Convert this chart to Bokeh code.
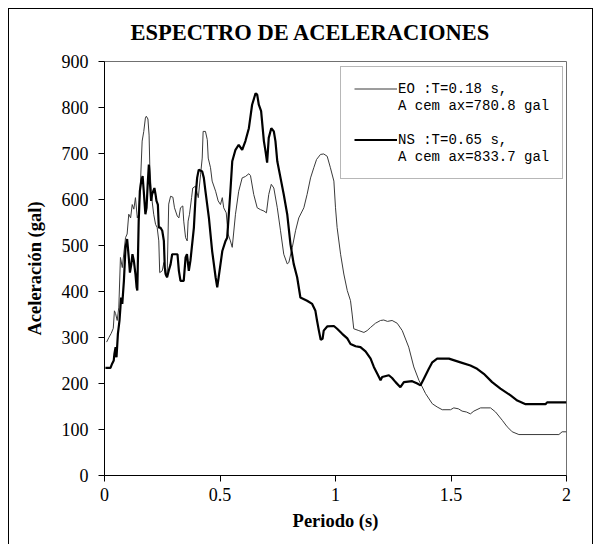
from bokeh.plotting import figure
from bokeh.models import Range1d, Legend, LegendItem, FixedTicker, ColumnDataSource
from bokeh.embed import file_html
from bokeh.resources import INLINE

# EO component (thin line)
eo_t = [0.009, 0.019, 0.029, 0.038, 0.043, 0.048, 0.055, 0.062, 0.069, 0.077, 0.091, 0.098,
        0.105, 0.113, 0.120, 0.127, 0.134, 0.142, 0.148, 0.156, 0.163, 0.170, 0.177, 0.181,
        0.188, 0.193, 0.196, 0.202, 0.206, 0.213, 0.221, 0.228, 0.235, 0.239, 0.250, 0.257,
        0.264, 0.271, 0.278, 0.286, 0.296, 0.303, 0.315, 0.322, 0.329, 0.339, 0.343, 0.351,
        0.358, 0.362, 0.368, 0.377, 0.382, 0.394, 0.406, 0.416, 0.423, 0.427, 0.437, 0.445,
        0.449, 0.459, 0.466, 0.481, 0.492, 0.502, 0.510, 0.516, 0.527, 0.535, 0.545, 0.553,
        0.567, 0.581, 0.596, 0.610, 0.625, 0.632, 0.646, 0.661, 0.675, 0.690, 0.701, 0.711,
        0.722, 0.733, 0.748, 0.762, 0.776, 0.791, 0.798, 0.813, 0.827, 0.841, 0.856, 0.863,
        0.877, 0.892, 0.906, 0.918, 0.935, 0.949, 0.964, 0.978, 0.993, 1.000, 1.007, 1.022,
        1.036, 1.051, 1.065, 1.072, 1.079, 1.101, 1.123, 1.137, 1.152, 1.173, 1.195, 1.209,
        1.225, 1.245, 1.267, 1.289, 1.317, 1.339, 1.361, 1.390, 1.419, 1.440, 1.462, 1.498,
        1.512, 1.532, 1.548, 1.567, 1.584, 1.599, 1.628, 1.671, 1.693, 1.722, 1.743, 1.765,
        1.794, 1.967, 1.981, 2.000]
eo_sa = [290, 300, 309, 320, 358, 352, 337, 366, 474, 452, 517, 525,
         568, 560, 589, 579, 604, 560, 568, 640, 727, 748, 777, 781,
         775, 740, 676, 618, 597, 568, 546, 539, 510, 441, 445, 463,
         434, 431, 590, 607, 605, 582, 564, 560, 582, 586, 553, 517,
         510, 553, 568, 604, 625, 629, 604, 655, 690, 748, 748, 730,
         690, 669, 640, 618, 597, 589, 604, 582, 571, 525, 510, 496,
         568, 618, 647, 650, 656, 652, 611, 582, 578, 575, 571, 611,
         633, 625, 582, 532, 481, 460, 463, 496, 532, 560, 575, 582,
         611, 647, 669, 687, 698, 699, 694, 669, 640, 582, 539, 481,
         438, 402, 380, 351, 319, 315, 311, 315, 322, 331, 337, 338,
         335, 337, 331, 315, 279, 236, 207, 178, 156, 149, 143, 143,
         147, 145, 140, 138, 134, 140, 147, 147, 138, 120, 106, 95,
         89, 89, 95, 95]

# NS component (thick line)
ns_t = [0.004, 0.026, 0.033, 0.040, 0.043, 0.048, 0.052, 0.058, 0.065, 0.069, 0.072, 0.077,
        0.084, 0.091, 0.098, 0.105, 0.110, 0.116, 0.121, 0.127, 0.134, 0.139, 0.142, 0.144,
        0.148, 0.153, 0.159, 0.165, 0.170, 0.177, 0.182, 0.187, 0.192, 0.196, 0.202, 0.206,
        0.211, 0.216, 0.221, 0.225, 0.231, 0.235, 0.242, 0.250, 0.257, 0.261, 0.265, 0.271,
        0.278, 0.286, 0.293, 0.307, 0.316, 0.322, 0.329, 0.343, 0.351, 0.357, 0.365, 0.372,
        0.387, 0.394, 0.401, 0.408, 0.423, 0.430, 0.437, 0.452, 0.466, 0.481, 0.488, 0.494,
        0.510, 0.524, 0.531, 0.545, 0.553, 0.567, 0.581, 0.596, 0.610, 0.625, 0.639, 0.654,
        0.661, 0.668, 0.678, 0.690, 0.697, 0.704, 0.711, 0.722, 0.733, 0.740, 0.748, 0.762,
        0.776, 0.791, 0.805, 0.819, 0.834, 0.848, 0.877, 0.899, 0.913, 0.920, 0.928, 0.936,
        0.944, 0.949, 0.964, 0.993, 1.007, 1.029, 1.051, 1.065, 1.087, 1.108, 1.130, 1.152,
        1.166, 1.181, 1.195, 1.202, 1.231, 1.245, 1.260, 1.281, 1.296, 1.332, 1.354, 1.368,
        1.382, 1.404, 1.419, 1.440, 1.491, 1.541, 1.584, 1.613, 1.642, 1.678, 1.714, 1.758,
        1.787, 1.823, 1.909, 1.916, 2.000]
ns_sa = [234, 234, 243, 250, 265, 279, 257, 308, 337, 366, 387, 373,
         423, 496, 514, 474, 441, 459, 481, 467, 438, 409, 402, 452,
         553, 618, 640, 651, 618, 568, 582, 633, 676, 640, 597, 611,
         618, 625, 611, 597, 589, 539, 539, 532, 510, 452, 438, 431,
         445, 459, 481, 481, 481, 445, 423, 423, 474, 481, 445, 467,
         539, 604, 647, 665, 661, 647, 618, 560, 488, 431, 409, 430,
         488, 510, 517, 618, 683, 708, 719, 708, 727, 755, 806, 831,
         828, 806, 792, 727, 705, 680, 734, 755, 748, 727, 683, 647,
         611, 568, 503, 460, 431, 387, 380, 373, 358, 337, 315, 295,
         297, 315, 324, 325, 319, 308, 298, 286, 281, 279, 270, 254,
         236, 221, 207, 214, 218, 212, 203, 192, 203, 205, 200, 196,
         210, 232, 246, 254, 254, 246, 239, 232, 221, 203, 189, 174,
         163, 155, 155, 159, 159]

x_ticks = [0, 0.5, 1, 1.5, 2]
y_ticks = [0, 100, 200, 300, 400, 500, 600, 700, 800, 900]
title_text = "ESPECTRO DE ACELERACIONES"
x_label = "Periodo (s)"
y_label = "Aceleración (gal)"
eo_lines = ["EO :T=0.18 s,", "A cem ax=780.8 gal"]
ns_lines = ["NS :T=0.65 s,", "A cem ax=833.7 gal"]

SERIF = "Liberation Serif"

p = figure(width=601, height=544, output_backend="svg", toolbar_location=None,
           x_range=Range1d(0, 2), y_range=Range1d(0, 900),
           min_border_left=104, min_border_right=35, min_border_top=60, min_border_bottom=69)
p.xgrid.visible = False
p.ygrid.visible = False
p.outline_line_color = "#707070"
p.outline_line_width = 1
p.background_fill_color = "white"
p.border_fill_color = "white"
p.stylesheets = [
    ":host { position: relative; }"
    ":host::after { content: ''; position: absolute; left: 8px; top: 8px; right: 8px; bottom: 0px;"
    " border: 1px solid black; border-bottom: none; pointer-events: none; z-index: 100; }"
]

p.title.text = title_text
p.title.align = "left"
p.title.offset = 26
p.title.standoff = 34
p.title.text_font = SERIF
p.title.text_font_style = "bold"
p.title.text_font_size = "22.5px"
p.title.text_color = "black"

for ax in (p.xaxis[0], p.yaxis[0]):
    ax.axis_line_color = "black"
    ax.major_tick_line_color = "black"
    ax.major_tick_out = 6
    ax.major_tick_in = 0
    ax.minor_tick_line_color = None
    ax.major_label_text_font = SERIF
    ax.major_label_text_font_size = "18px"
    ax.major_label_text_color = "black"
    ax.axis_label_text_font = SERIF
    ax.axis_label_text_font_style = "bold"
    ax.axis_label_text_font_size = "18.5px"
    ax.axis_label_text_color = "black"

p.xaxis[0].ticker = FixedTicker(ticks=x_ticks)
p.yaxis[0].ticker = FixedTicker(ticks=y_ticks)
p.xaxis[0].axis_label = x_label
p.yaxis[0].axis_label = y_label
p.xaxis[0].major_label_standoff = 6
p.yaxis[0].major_label_standoff = 10
p.xaxis[0].axis_label_standoff = 7
p.yaxis[0].axis_label_standoff = 14

src_eo = ColumnDataSource(dict(t=eo_t, sa=eo_sa))
src_ns = ColumnDataSource(dict(t=ns_t, sa=ns_sa))
r_eo = p.line("t", "sa", source=src_eo, line_color="#3a3a3a", line_width=1)
r_ns = p.line("t", "sa", source=src_ns, line_color="black", line_width=2.2)
r_blank = p.line("t", "sa", source=src_ns, line_alpha=0)

legend = Legend(items=[
    LegendItem(label=eo_lines[0], renderers=[r_eo]),
    LegendItem(label=eo_lines[1], renderers=[r_blank]),
    LegendItem(label=" ", renderers=[r_blank]),
    LegendItem(label=ns_lines[0], renderers=[r_ns]),
    LegendItem(label=ns_lines[1], renderers=[r_blank]),
], location=(236, 296))
legend.label_text_font = "Liberation Mono"
legend.label_text_font_size = "14px"
legend.label_text_color = "black"
legend.label_height = 17
legend.glyph_height = 17
legend.glyph_width = 43
legend.label_standoff = 1
legend.spacing = 0
legend.padding = 13
legend.margin = 0
legend.border_line_color = "#707070"
legend.border_line_width = 1
legend.background_fill_alpha = 1
p.add_layout(legend)

open("out.html", "w").write(file_html(p, INLINE))
